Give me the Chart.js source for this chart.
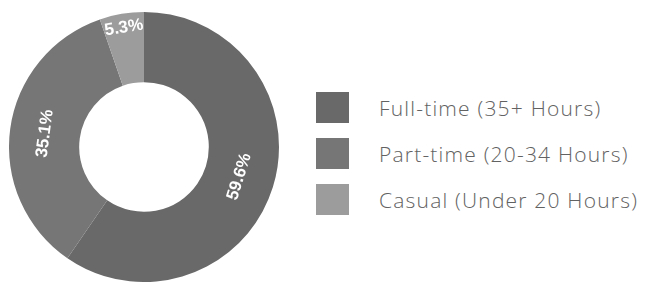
<!DOCTYPE html>
<html>
<head>
<meta charset="utf-8">
<script src="https://cdn.jsdelivr.net/npm/chart.js@4/dist/chart.umd.min.js"></script>
<style>
  html, body { margin:0; padding:0; background:#fff; }
  #wrap { position:relative; width:654px; height:285px; overflow:hidden; }
  #pie { position:absolute; left:9px; top:12px; width:270px; height:270px; }
  #legend { position:absolute; left:316px; top:92px; font-family: "Open Sans", Lato, sans-serif; font-weight:300; font-size:21px; letter-spacing:1.2px; color:#626262; }
  .lg-row { display:flex; align-items:center; height:31px; margin-bottom:15px; white-space:nowrap; }
  .lg-box { width:33px; height:31px; margin-right:30px; flex:none; }
</style>
</head>
<body>
<div id="wrap">
  <div id="pie"><canvas id="c"></canvas></div>
  <div id="legend"></div>
</div>
<script>
const categories = ['Full-time (35+ Hours)', 'Part-time (20-34 Hours)', 'Casual (Under 20 Hours)'];
const shares = [59.6, 35.1, 5.3];
const colors = ['#696969', '#767676', '#9c9c9c'];

// radial spot for each label, 0 = inner edge, 1 = outer edge
const labelSpot = [0.5, 0.5, 0.8];

const sliceLabels = {
  id: 'sliceLabels',
  afterDatasetsDraw(chart){
    const ctx = chart.ctx;
    const meta = chart.getDatasetMeta(0);
    ctx.save();
    ctx.fillStyle = '#fff';
    ctx.font = 'bold 17px "Liberation Sans", Arial, sans-serif';
    ctx.textAlign = 'center';
    ctx.textBaseline = 'middle';
    meta.data.forEach((arc, i) => {
      const p = arc.getProps(['x','y','startAngle','endAngle','innerRadius','outerRadius'], true);
      const mid = (p.startAngle + p.endAngle) / 2;
      const r = p.innerRadius + (p.outerRadius - p.innerRadius) * labelSpot[i];
      let rot = mid + Math.PI / 2;
      while (rot > Math.PI) rot -= 2 * Math.PI;
      while (rot < -Math.PI) rot += 2 * Math.PI;
      if (rot > Math.PI / 2) rot -= Math.PI;
      if (rot < -Math.PI / 2) rot += Math.PI;
      ctx.save();
      ctx.translate(p.x + Math.cos(mid) * r, p.y + Math.sin(mid) * r);
      ctx.rotate(rot);
      ctx.fillText(shares[i].toFixed(1) + '%', 0, 0);
      ctx.restore();
    });
    ctx.restore();
  }
};

new Chart(document.getElementById('c'), {
  type: 'doughnut',
  data: {
    labels: categories,
    datasets: [{ data: shares, backgroundColor: colors, borderWidth: 0, hoverOffset: 0 }]
  },
  options: {
    responsive: true,
    maintainAspectRatio: false,
    animation: false,
    cutout: '48%',
    layout: { padding: 0 },
    plugins: { legend: { display: false }, tooltip: { enabled: false } }
  },
  plugins: [sliceLabels]
});

const lg = document.getElementById('legend');
categories.forEach((name, i) => {
  const row = document.createElement('div'); row.className = 'lg-row';
  const box = document.createElement('div'); box.className = 'lg-box'; box.style.background = colors[i];
  const txt = document.createElement('span'); txt.textContent = name;
  row.appendChild(box); row.appendChild(txt); lg.appendChild(row);
});
</script>
</body>
</html>
